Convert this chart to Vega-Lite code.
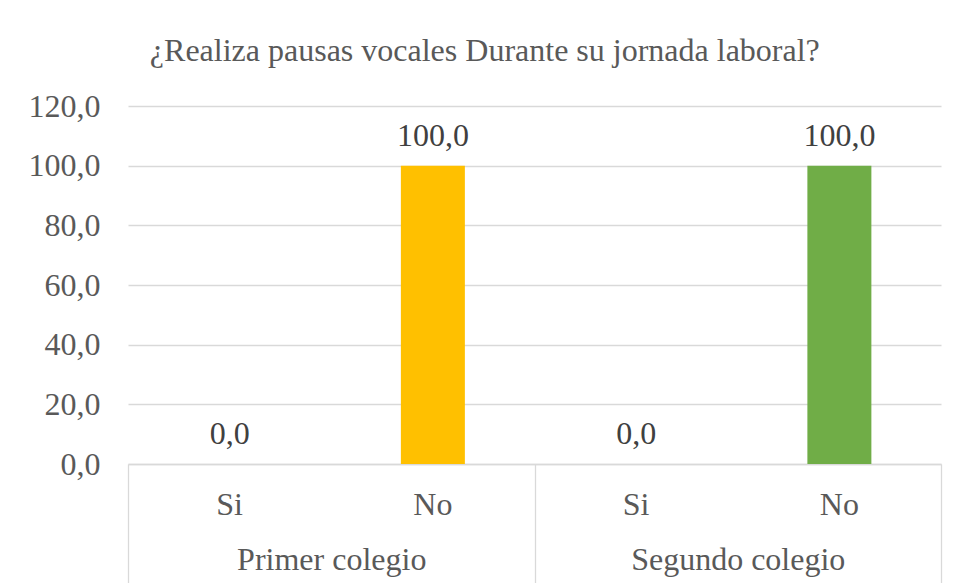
{
  "$schema": "https://vega.github.io/schema/vega-lite/v6.json",
  "width": 813,
  "height": 358,
  "padding": {"left": 28, "top": 35, "right": 10, "bottom": 0},
  "background": "white",
  "config": {
    "locale": {"number": {"decimal": ",", "thousands": ".", "grouping": [3], "currency": ["", " €"]}},
    "view": {"stroke": null},
    "font": "Liberation Serif"
  },
  "title": {
    "text": "¿Realiza pausas vocales Durante su jornada laboral?",
    "fontSize": 32,
    "font": "Liberation Serif",
    "fontWeight": "normal",
    "color": "#595959",
    "anchor": "middle",
    "frame": "bounds",
    "offset": 22
  },
  "data": {
    "values": [
      {"colegio": "Primer colegio", "respuesta": "Si", "clave": "Primer colegio|Si", "porcentaje": 0},
      {"colegio": "Primer colegio", "respuesta": "No", "clave": "Primer colegio|No", "porcentaje": 100},
      {"colegio": "Segundo colegio", "respuesta": "Si", "clave": "Segundo colegio|Si", "porcentaje": 0},
      {"colegio": "Segundo colegio", "respuesta": "No", "clave": "Segundo colegio|No", "porcentaje": 100}
    ]
  },
  "encoding": {
    "y": {
      "field": "porcentaje",
      "type": "quantitative",
      "scale": {"domain": [0, 120], "nice": false},
      "axis": {
        "title": null,
        "values": [0, 20, 40, 60, 80, 100, 120],
        "format": ".1f",
        "domain": false,
        "ticks": false,
        "grid": true,
        "gridColor": "#d9d9d9",
        "gridWidth": 1.3,
        "labelFontSize": 32,
        "labelFont": "Liberation Serif",
        "labelColor": "#595959",
        "labelPadding": 28
      }
    }
  },
  "layer": [
    {
      "encoding": {
        "x": {
          "field": "clave",
          "type": "nominal",
          "sort": null,
          "scale": {"paddingInner": 0, "paddingOuter": 0},
          "axis": {
            "orient": "bottom",
            "title": null,
            "labelExpr": "split(datum.label, '|')[1]",
            "ticks": false,
            "domain": false,
            "grid": false,
            "labelAngle": 0,
            "labelFontSize": 32,
            "labelFont": "Liberation Serif",
            "labelColor": "#595959",
            "labelPadding": 25,
            "labelLimit": 400
          }
        }
      },
      "layer": [
        {
          "mark": {"type": "bar", "size": 64},
          "encoding": {
            "color": {
              "field": "clave",
              "type": "nominal",
              "sort": null,
              "scale": {
                "domain": ["Primer colegio|Si", "Primer colegio|No", "Segundo colegio|Si", "Segundo colegio|No"],
                "range": ["#4472C4", "#FFC000", "#4472C4", "#70AD47"]
              },
              "legend": null
            }
          }
        },
        {
          "mark": {"type": "text", "baseline": "alphabetic", "dy": -20, "fontSize": 32, "font": "Liberation Serif", "color": "#404040"},
          "encoding": {
            "text": {"field": "porcentaje", "type": "quantitative", "format": ".1f"}
          }
        }
      ]
    },
    {
      "mark": {"type": "text", "text": ""},
      "encoding": {
        "x": {
          "field": "colegio",
          "type": "nominal",
          "sort": null,
          "scale": {"paddingInner": 0, "paddingOuter": 0},
          "axis": {
            "orient": "bottom",
            "title": null,
            "labelAngle": 0,
            "tickBand": "extent",
            "tickSize": 119,
            "tickColor": "#d9d9d9",
            "tickWidth": 1.3,
            "domainColor": "#d9d9d9",
            "domainWidth": 1.3,
            "grid": false,
            "labelFontSize": 32,
            "labelFont": "Liberation Serif",
            "labelColor": "#595959",
            "labelPadding": -39,
            "labelLimit": 400
          }
        }
      }
    }
  ],
  "resolve": {"scale": {"x": "independent"}}
}
